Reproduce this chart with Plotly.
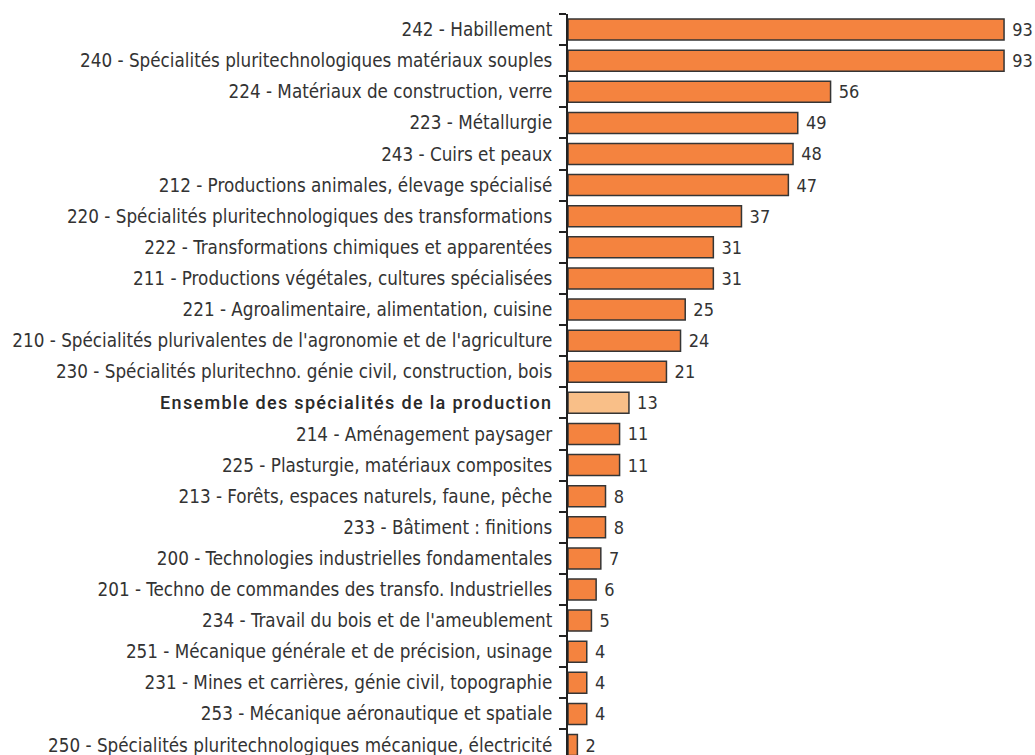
import plotly.graph_objects as go

categories = [
    "242 - Habillement",
    "240 - Spécialités pluritechnologiques matériaux souples",
    "224 - Matériaux de construction, verre",
    "223 - Métallurgie",
    "243 - Cuirs et peaux",
    "212 - Productions animales, élevage spécialisé",
    "220 - Spécialités pluritechnologiques des transformations",
    "222 - Transformations chimiques et apparentées",
    "211 - Productions végétales, cultures spécialisées",
    "221 - Agroalimentaire, alimentation, cuisine",
    "210 - Spécialités plurivalentes de l'agronomie et de l'agriculture",
    "230 - Spécialités pluritechno. génie civil, construction, bois",
    "Ensemble des spécialités de la production",
    "214 - Aménagement paysager",
    "225 - Plasturgie, matériaux composites",
    "213 - Forêts, espaces naturels, faune, pêche",
    "233 - Bâtiment : finitions",
    "200 - Technologies industrielles fondamentales",
    "201 - Techno de commandes des transfo. Industrielles",
    "234 - Travail du bois et de l'ameublement",
    "251 - Mécanique générale et de précision, usinage",
    "231 - Mines et carrières, génie civil, topographie",
    "253 - Mécanique aéronautique et spatiale",
    "250 - Spécialités pluritechnologiques mécanique, électricité",
]
values = [93, 93, 56, 49, 48, 47, 37, 31, 31, 25, 24, 21, 13, 11, 11, 8, 8, 7, 6, 5, 4, 4, 4, 2]
total_label = "Ensemble des spécialités de la production"

ORANGE = "#F4833F"
LIGHT = "#F9BF88"
colors = [LIGHT if c == total_label else ORANGE for c in categories]

LABEL_FONT = "DejaVu Sans Condensed, Roboto, sans-serif"

ticktext = []
for c in categories:
    if c == total_label:
        ticktext.append(
            "<span style=\"font-family:'Roboto Medium',Roboto;font-size:18px;letter-spacing:1.3px;fill:#2a2a2a\">"
            + c + "</span>"
        )
    else:
        ticktext.append(c)

fig = go.Figure(
    go.Bar(
        x=values,
        y=categories,
        orientation="h",
        marker=dict(color=colors, line=dict(color="#353535", width=1.5)),
        text=[" %d" % v for v in values],
        textposition="outside",
        textfont=dict(family=LABEL_FONT, size=18, color="#333333"),
        cliponaxis=False,
    )
)

fig.update_layout(
    width=1035,
    height=755,
    margin=dict(l=568, r=0, t=14, b=0),
    paper_bgcolor="white",
    plot_bgcolor="white",
    bargap=0.325,
    showlegend=False,
    font=dict(family=LABEL_FONT, size=18.7, color="#333333"),
)
fig.update_xaxes(range=[0, 99.6], visible=False, showgrid=False, zeroline=False)
fig.update_yaxes(
    type="category",
    categoryorder="array",
    categoryarray=categories,
    tickmode="array",
    tickvals=categories,
    ticktext=ticktext,
    range=[23.32, -0.5],
    showline=True,
    linecolor="#222222",
    linewidth=2,
    ticks="outside",
    tickson="boundaries",
    ticklen=7,
    tickwidth=1.5,
    tickcolor="#222222",
    ticklabelstandoff=10,
    showgrid=False,
    zeroline=False,
    automargin=False,
    tickfont=dict(family=LABEL_FONT, size=18.7, color="#333333"),
)

fig.write_html(
    "out.html",
    config={"displayModeBar": False},
    post_script="document.body.style.margin='0';document.body.style.overflow='hidden';",
)
